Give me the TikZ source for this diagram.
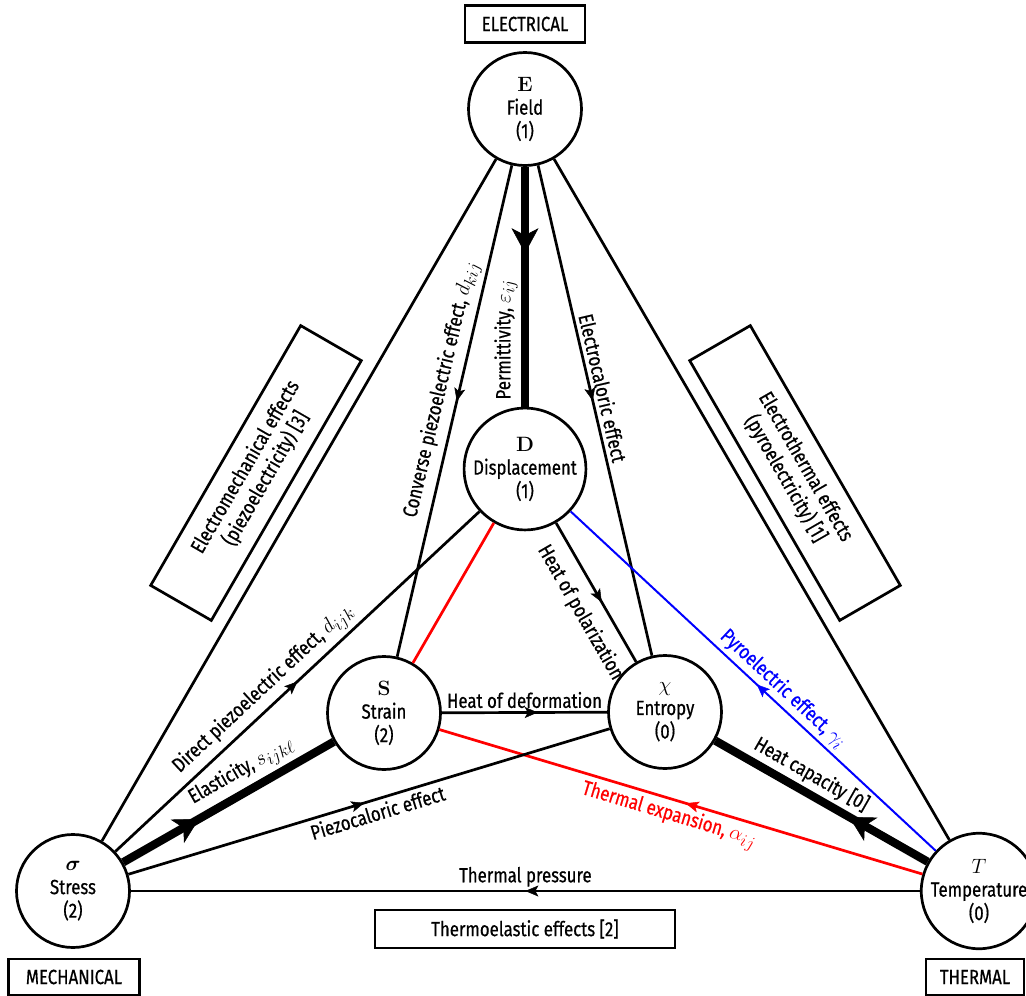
\documentclass[tikz,border=0pt]{standalone}
\usepackage{amsmath}
\usepackage[no-math]{fontspec}
\setmainfont{Fira Sans}[FakeStretch=0.82,FakeBold=0.6]
\usetikzlibrary{arrows.meta,decorations.markings}
\newcommand{\lblfont}{\fontsize{20.5}{23.5}\selectfont}
\DeclareMathSizes{20.5}{21}{16}{12}
\begin{document}
\begin{tikzpicture}[x=1pt,y=-1pt,font=\lblfont,
  varnode/.style={circle, draw, fill=white, line width=2.7pt, minimum size=113pt, inner sep=0pt, align=center},
  dombox/.style={draw, fill=white, line width=2.7pt, inner sep=0pt, align=center},
  conn/.style={line width=2.7pt},
  thinconn/.style={line width=2pt},
  heavy/.style={line width=8.3pt},
  lab/.style={sloped, inner sep=3.5pt},
  midarrow/.style={postaction={decorate}, decoration={markings,
      mark=at position #1 with {\arrow{Stealth[length=13pt,width=11pt,inset=3pt,line width=0.5pt]}}}},
  bigarrow/.style={postaction={decorate}, decoration={markings,
      mark=at position #1 with {\arrow{Stealth[length=25pt,width=27pt,inset=7pt,line width=0.5pt]}}}}
]
\useasboundingbox (0,0) rectangle (1026,996);

% domain boxes
\node[dombox, minimum width=120pt, minimum height=37pt] (elec) at (525,24) {ELECTRICAL};
\node[dombox, minimum width=131pt, minimum height=36pt] (mech) at (74,977) {MECHANICAL};
\node[dombox, minimum width=98pt, minimum height=36pt] (therm) at (975,977) {THERMAL};
\node[dombox, minimum width=300pt, minimum height=38pt] (tel) at (525,929) {Thermoelastic effects [2]};
\node[dombox, rotate=60, minimum width=300pt, minimum height=70pt] (emb) at (256,473) {Electromechanical effects\\(piezoelectricity) [3]};
\node[dombox, rotate=-60, minimum width=300pt, minimum height=70pt] (etb) at (795,473) {Electrothermal effects\\(pyroelectricity) [1]};

% state variables
\node[varnode] (E) at (525,109) {$\mathbf{E}$\\Field\\(1)};
\node[varnode] (D) at (525,469) {$\mathbf{D}$\\Displacement\\(1)};
\node[varnode] (S) at (384,713) {$\mathbf{S}$\\Strain\\(2)};
\node[varnode] (X) at (665,712) {$\chi$\\Entropy\\(0)};
\node[varnode] (St) at (73,891) {$\boldsymbol{\sigma}$\\Stress\\(2)};
\node[varnode] (T) at (979,891) {$T$\\Temperature\\(0)};

% outer triangle edges (plain)
\draw[conn] (E) -- (St);
\draw[conn] (E) -- (T);

% electrical
\draw[heavy, bigarrow=0.36] (E) -- node[pos=0.72, rotate=90, anchor=south, inner sep=3pt] {Permittivity, $\varepsilon_{ij}$} (D);
\draw[conn, midarrow=0.48] (E) -- node[lab, above, pos=0.465] {Converse piezoelectric effect, $d_{kij}$} (S);
\draw[conn, midarrow=0.48] (E) -- node[lab, above, pos=0.46] {Electrocaloric effect} (X);
\draw[conn, midarrow=0.5] (St) -- node[lab, above, pos=0.44] {Direct piezoelectric effect, $d_{ijk}$} (D);
\draw[conn, red] (D) -- (S);
\draw[conn, midarrow=0.57] (D) -- node[lab, below, pos=0.56, inner sep=12pt] {Heat of polarization} (X);
\draw[thinconn, blue, midarrow=0.49] (T) -- node[lab, above, pos=0.445] {Pyroelectric effect, $\gamma_i$} (D);

% inner
\draw[conn, midarrow=0.58] (S) -- node[above, pos=0.5, inner sep=3pt] {Heat of deformation} (X);
\draw[heavy, bigarrow=0.36] (St) -- node[lab, above, pos=0.61] {Elasticity, $s_{ijk\ell}$} (S);
\draw[conn, red, midarrow=0.49] (T) -- node[lab, below, pos=0.515] {Thermal expansion, $\alpha_{ij}$} (S);
\draw[conn, midarrow=0.49] (St) -- node[lab, below, pos=0.51] {Piezocaloric effect} (X);
\draw[heavy, bigarrow=0.37] (T) -- node[lab, above, pos=0.59] {Heat capacity [0]} (X);
\draw[conn, midarrow=0.5] (T) -- node[above, pos=0.5, inner sep=3pt] {Thermal pressure} (St);
\end{tikzpicture}
\end{document}
